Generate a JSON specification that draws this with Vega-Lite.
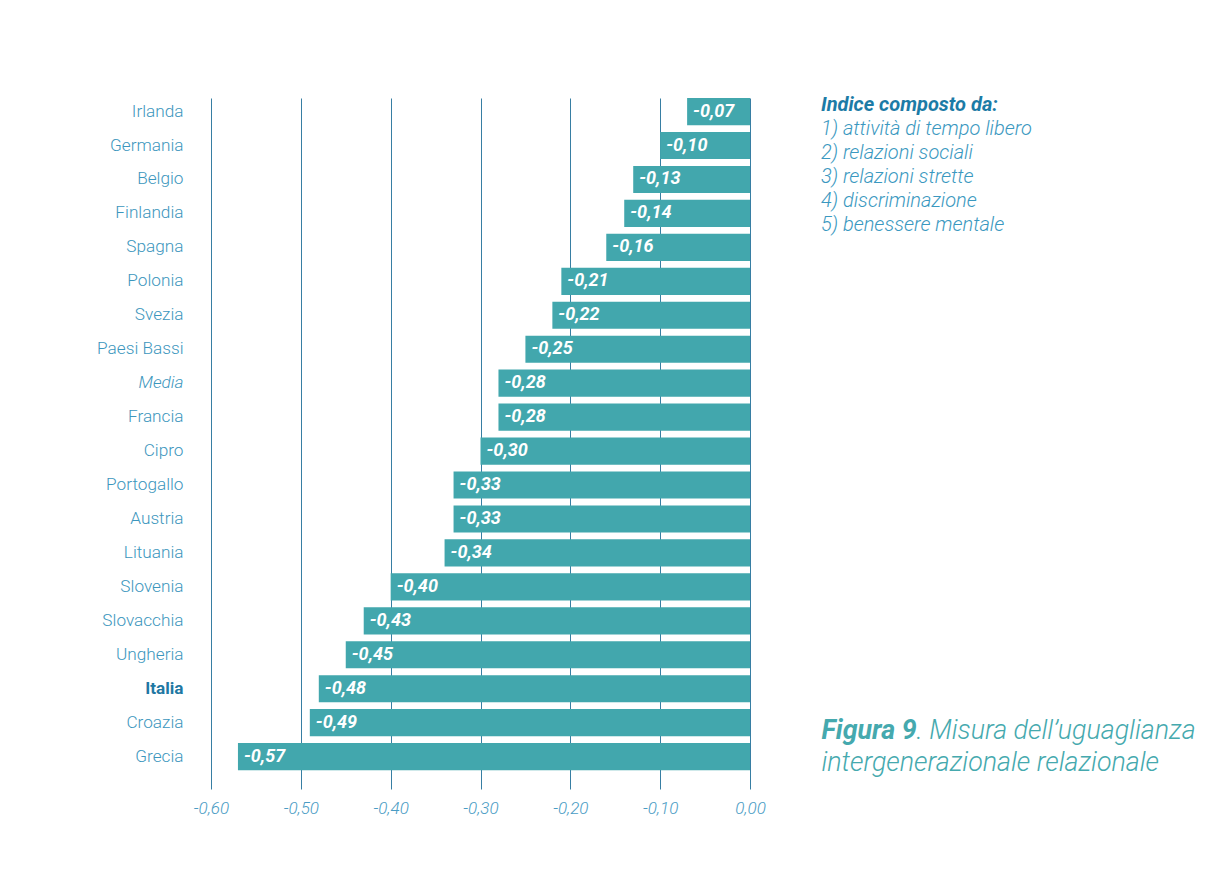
{
  "$schema": "https://vega.github.io/schema/vega-lite/v6.json",
  "width": 539,
  "height": 691,
  "autosize": {"type": "none"},
  "padding": {"left": 211, "top": 98, "right": 474, "bottom": 84},
  "background": "white",
  "config": {
    "locale": {"number": {"decimal": ",", "thousands": ".", "grouping": [3], "currency": ["€", ""], "minus": "-"}},
    "view": {"stroke": null},
    "font": "Roboto"
  },
  "title": {
    "text": "Indice composto da:",
    "subtitle": ["1) attività di tempo libero", "2) relazioni sociali", "3) relazioni strette", "4) discriminazione", "5) benessere mentale"],
    "orient": "top",
    "anchor": "start",
    "frame": "group",
    "offset": 0,
    "dx": 610,
    "dy": 137,
    "font": "Roboto",
    "fontSize": 20,
    "fontWeight": "bold",
    "fontStyle": "italic",
    "color": "#1c7ba6",
    "subtitleFont": "Roboto",
    "subtitleFontSize": 20,
    "subtitleFontWeight": 300,
    "subtitleFontStyle": "italic",
    "subtitleColor": "#3a98c0",
    "subtitleLineHeight": 24,
    "subtitlePadding": 4
  },
  "data": {
    "values": [
      {"paese": "Irlanda", "valore": -0.07},
      {"paese": "Germania", "valore": -0.10},
      {"paese": "Belgio", "valore": -0.13},
      {"paese": "Finlandia", "valore": -0.14},
      {"paese": "Spagna", "valore": -0.16},
      {"paese": "Polonia", "valore": -0.21},
      {"paese": "Svezia", "valore": -0.22},
      {"paese": "Paesi Bassi", "valore": -0.25},
      {"paese": "Media", "valore": -0.28},
      {"paese": "Francia", "valore": -0.28},
      {"paese": "Cipro", "valore": -0.30},
      {"paese": "Portogallo", "valore": -0.33},
      {"paese": "Austria", "valore": -0.33},
      {"paese": "Lituania", "valore": -0.34},
      {"paese": "Slovenia", "valore": -0.40},
      {"paese": "Slovacchia", "valore": -0.43},
      {"paese": "Ungheria", "valore": -0.45},
      {"paese": "Italia", "valore": -0.48},
      {"paese": "Croazia", "valore": -0.49},
      {"paese": "Grecia", "valore": -0.57}
    ]
  },
  "encoding": {
    "y": {
      "field": "paese",
      "type": "nominal",
      "sort": null,
      "scale": {"paddingInner": 0.2, "paddingOuter": 0.277, "align": 0},
      "axis": {
        "domain": false,
        "ticks": false,
        "tickSize": 0,
        "grid": false,
        "labelPadding": 28,
        "labelFont": "Roboto",
        "labelFontSize": 17.2,
        "labelFontWeight": {"condition": {"test": "datum.value === 'Italia'", "value": "bold"}, "value": 300},
        "labelFontStyle": {"condition": {"test": "datum.value === 'Media'", "value": "italic"}, "value": "normal"},
        "labelColor": {"condition": {"test": "datum.value === 'Italia'", "value": "#1f78a3"}, "value": "#3c96bd"},
        "title": ". Misura dell’uguaglianza",
        "titleX": 705,
        "titleY": 640,
        "titleAngle": 0,
        "titleAlign": "left",
        "titleBaseline": "alphabetic",
        "titleFont": "Roboto",
        "titleFontSize": 26.8,
        "titleFontWeight": 300,
        "titleFontStyle": "italic",
        "titleColor": "#45a9ae"
      }
    }
  },
  "layer": [
    {
      "mark": {"type": "bar", "color": "#42a7ad"},
      "encoding": {
        "x": {
          "field": "valore",
          "type": "quantitative",
          "scale": {"domain": [-0.6, 0], "nice": false},
          "axis": {
            "orient": "bottom",
            "values": [-0.6, -0.5, -0.4, -0.3, -0.2, -0.1, 0],
            "format": ".2f",
            "grid": true,
            "gridColor": "#377ea3",
            "gridWidth": 1,
            "domain": false,
            "ticks": false,
            "tickSize": 0,
            "labelFlush": false,
            "labelOverlap": false,
            "labelPadding": 11,
            "labelFont": "Roboto",
            "labelFontSize": 17,
            "labelFontStyle": "italic",
            "labelFontWeight": 300,
            "labelColor": "#4a9cc4",
            "title": "Figura 9",
            "titleX": 610,
            "titleY": -51,
            "titleAlign": "left",
            "titleBaseline": "alphabetic",
            "titleFont": "Roboto",
            "titleFontSize": 26.8,
            "titleFontWeight": "bold",
            "titleFontStyle": "italic",
            "titleColor": "#45a9ae"
          }
        }
      }
    },
    {
      "mark": {"type": "text", "align": "left", "baseline": "middle", "dx": 6, "font": "Roboto", "fontSize": 18, "fontWeight": "bold", "fontStyle": "italic", "color": "white"},
      "encoding": {
        "x": {
          "field": "valore",
          "type": "quantitative",
          "axis": {
            "orient": "top",
            "labels": false,
            "ticks": false,
            "domain": false,
            "grid": false,
            "title": "intergenerazionale relazionale",
            "titleX": 610,
            "titleY": 672,
            "titleAlign": "left",
            "titleBaseline": "alphabetic",
            "titleFont": "Roboto",
            "titleFontSize": 26.8,
            "titleFontWeight": 300,
            "titleFontStyle": "italic",
            "titleColor": "#45a9ae"
          }
        },
        "text": {"field": "valore", "type": "quantitative", "format": ".2f"}
      }
    }
  ],
  "resolve": {"axis": {"x": "independent"}}
}
